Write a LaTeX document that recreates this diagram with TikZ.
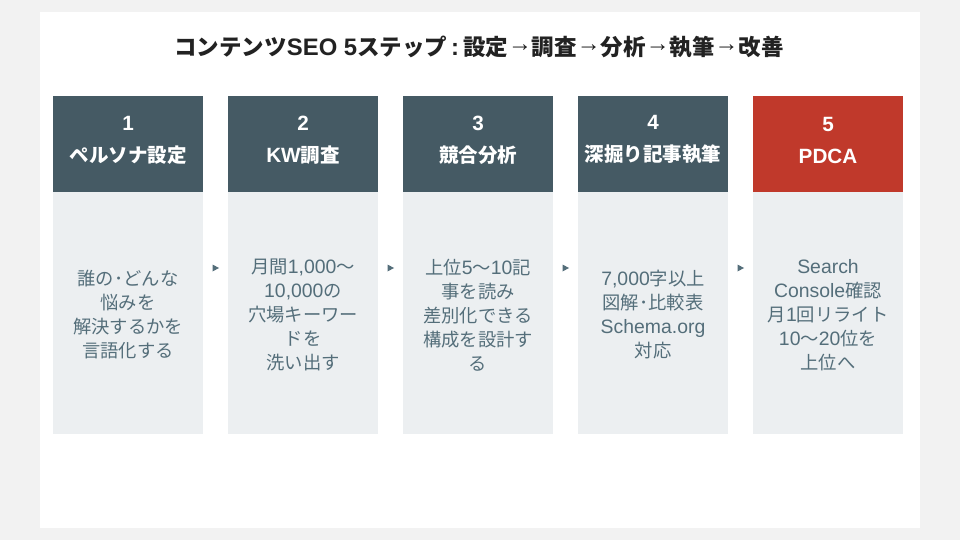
\documentclass[tikz,border=0pt]{standalone}
\usepackage{fontspec}
\setmainfont{Noto Sans CJK JP}
\newfontfamily\lat{Liberation Sans}[Scale=1.06]
\definecolor{bgc}{HTML}{F2F2F2}
\definecolor{headc}{HTML}{455A64}
\definecolor{redc}{HTML}{C0392B}
\definecolor{bodyc}{HTML}{ECEFF1}
\definecolor{bodytext}{HTML}{546E7A}
\definecolor{titlec}{HTML}{222222}
\newcommand{\rarr}{{\lat\raisebox{3.5pt}{→}}}
\tikzset{
  headbox/.style={rectangle, fill=headc, minimum width=150pt, minimum height=96pt, inner sep=0pt},
  headtext/.style={text=white, align=center, inner sep=0pt, font=\bfseries\fontsize{19.5}{32}\selectfont},
  bodybox/.style={rectangle, fill=bodyc, minimum width=150pt, minimum height=242pt, inner sep=0pt, text=bodytext, align=center, font=\fontsize{18.3}{24}\selectfont},
  tri/.style={fill=bodytext}
}
\begin{document}
\begin{tikzpicture}[x=1pt,y=-1pt]
\useasboundingbox (0,0) rectangle (960,540);
\fill[bgc] (0,0) rectangle (960,540);
\fill[white] (40,12) rectangle (920,528);
\node[font=\bfseries\fontsize{22.5}{26}\selectfont, text=titlec, inner sep=0pt] (title) at (479,47) {コンテンツ{\lat SEO 5}ステップ{\lat\,:\,}設定\rarr 調査\rarr 分析\rarr 執筆\rarr 改善};
% headers
\node[headbox] (h1) at (128,144) {};
\node[headbox] (h2) at (303,144) {};
\node[headbox] (h3) at (478,144) {};
\node[headbox] (h4) at (653,144) {};
\node[headbox, fill=redc] (h5) at (828,144) {};
\node[headtext] (h1t) at (128,140) {{\lat 1}\\ペルソナ設定};
\node[headtext] (h2t) at (303,140) {{\lat 2}\\{\lat KW}調査};
\node[headtext] (h3t) at (478,140) {{\lat 3}\\競合分析};
\node[headtext] (h4t) at (653,140) {{\lat 4}\\深掘り記事執筆};
\node[headtext] (h5t) at (828,140) {{\lat 5}\\{\lat PDCA}};
% bodies
\node[bodybox] (b1) at (128,313) {};
\node[bodybox] (b2) at (303,313) {};
\node[bodybox] (b3) at (478,313) {};
\node[bodybox] (b4) at (653,313) {};
\node[bodybox] (b5) at (828,313) {};
\node[bodybox, fill=none, minimum height=0pt] (b1t) at (128,315) {誰の･どんな\\悩みを\\解決するかを\\言語化する};
\node[bodybox, fill=none, minimum height=0pt] (b2t) at (303,315) {月間{\lat 1,000}〜\\{\lat 10,000}の\\穴場キーワー\\ドを\\洗い出す};
\node[bodybox, fill=none, minimum height=0pt] (b3t) at (478,315) {上位{\lat 5}〜{\lat 10}記\\事を読み\\差別化できる\\構成を設計す\\る};
\node[bodybox, fill=none, minimum height=0pt] (b4t) at (653,315) {{\lat 7,000}字以上\\図解･比較表\\{\lat Schema.org}\\対応};
\node[bodybox, fill=none, minimum height=0pt] (b5t) at (828,315) {{\lat Search}\\{\lat Console}確認\\月{\lat 1}回リライト\\{\lat 10}〜{\lat 20}位を\\上位へ};
% arrows
\foreach \i/\x in {1/215.5,2/390.5,3/565.5,4/740.5}{
  \coordinate (t\i) at (\x,268);
  \fill[tri, shift={(t\i)}] (-3,-3.5) -- (3.5,0) -- (-3,3.5) -- cycle;
}
\end{tikzpicture}
\end{document}
